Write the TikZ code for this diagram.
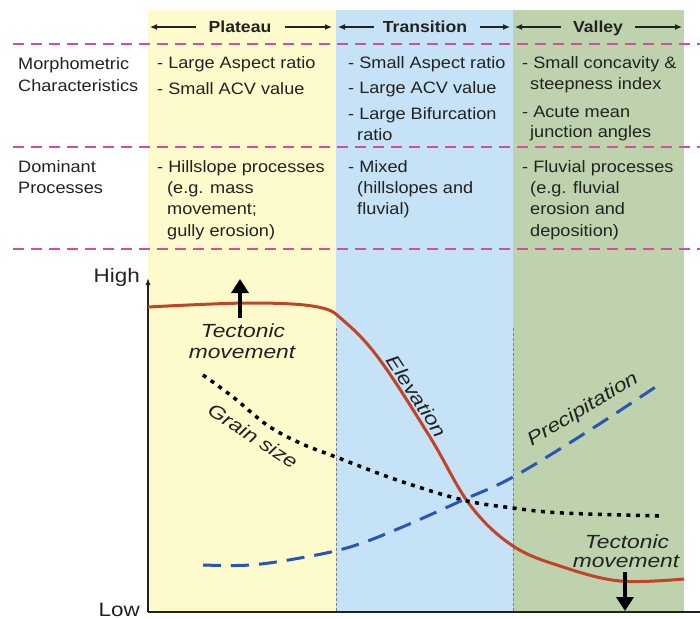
\documentclass[tikz,border=0pt]{standalone}
\usepackage{fontspec}
\setmainfont{Liberation Sans}[FakeStretch=1.1]
\newfontfamily\lblfont{Liberation Sans}[FakeStretch=1.2]
\newfontfamily\axfont{Liberation Sans}[FakeStretch=1.15]
\usetikzlibrary{arrows.meta}
\definecolor{plat}{HTML}{FDFBCB}
\definecolor{trans}{HTML}{C6E2F7}
\definecolor{vall}{HTML}{BED3AD}
\definecolor{pinkd}{HTML}{D94C9C}
\definecolor{elev}{HTML}{C1432A}
\definecolor{precip}{HTML}{2B55B5}
\definecolor{txt}{HTML}{222222}
\tikzset{
  body/.style={anchor=base west, inner sep=0pt, text=txt, font=\fontsize{16.5}{20}\selectfont},
  head/.style={anchor=base, inner sep=0pt, text=txt, font=\fontsize{16}{20}\selectfont\bfseries},
  axlbl/.style={anchor=base east, inner sep=0pt, text=txt, font=\axfont\fontsize{19.5}{22}\selectfont},
  curvelbl/.style={anchor=base, inner sep=0pt, text=txt, font=\lblfont\fontsize{19}{22}\selectfont\itshape},
  hdarrow/.style={-{Latex[length=7pt,width=6pt]}, line width=1.1pt, txt},
  rowline/.style={pinkd, line width=1.4pt, dash pattern=on 11pt off 7pt},
  zoneline/.style={gray, line width=0.6pt, dash pattern=on 3pt off 2pt},
  tect/.style={-{Triangle[length=14pt,width=17pt]}, line width=4.5pt, black},
}
\begin{document}
\begin{tikzpicture}[x=1pt,y=-1pt]
\useasboundingbox (0,0) rectangle (700,618);
% zones
\fill[plat] (148,10) rectangle (336,612);
\fill[trans] (336,10) rectangle (513,612);
\fill[vall] (513,10) rectangle (684,612);
% row separators
\foreach \yy in {44,147,249} \draw[rowline] (13,\yy) -- (700,\yy);
% zone boundaries in graph
\draw[zoneline] (336,328) -- (336,612);
\draw[zoneline] (513,328) -- (513,612);
% headers
\node[head] (hp) at (240,33) {Plateau};
\node[head] (ht) at (425,33) {Transition};
\node[head] (hv) at (598,33) {Valley};
\coordinate (hpL) at (150,27); \coordinate (hpR) at (332,27);
\coordinate (htL) at (338,27); \coordinate (htR) at (510,27);
\coordinate (hvL) at (515,27); \coordinate (hvR) at (682,27);
\draw[hdarrow] ([xshift=-13pt]hp.west |- hpL) -- (hpL);
\draw[hdarrow] ([xshift=13pt]hp.east |- hpR) -- (hpR);
\draw[hdarrow] ([xshift=-9pt]ht.west |- htL) -- (htL);
\draw[hdarrow] ([xshift=13pt]ht.east |- htR) -- (htR);
\draw[hdarrow] ([xshift=-12pt]hv.west |- hvL) -- (hvL);
\draw[hdarrow] ([xshift=12pt]hv.east |- hvR) -- (hvR);
% row labels
\node[body] (m1) at (18,69) {Morphometric};
\node[body] (m2) at (18,91) {Characteristics};
\node[body] (d1) at (18,172) {Dominant};
\node[body] (d2) at (18,193) {Processes};
% plateau
\node[body] (p1) at (157,68) {- Large Aspect ratio};
\node[body] (p2) at (157,94) {- Small ACV value};
\node[body] (p3) at (157,172) {- Hillslope processes};
\node[body] (p4) at (167,193) {(e.g. mass};
\node[body] (p5) at (167,214) {movement;};
\node[body] (p6) at (167,236) {gully erosion)};
% transition
\node[body] (t1) at (348,68) {- Small Aspect ratio};
\node[body] (t2) at (348,93) {- Large ACV value};
\node[body] (t3) at (348,119) {- Large Bifurcation};
\node[body] (t4) at (357,140) {ratio};
\node[body] (t5) at (348,172) {- Mixed};
\node[body] (t6) at (357,193) {(hillslopes and};
\node[body] (t7) at (357,214) {fluvial)};
% valley
\node[body] (v1) at (522,68) {- Small concavity \&};
\node[body] (v2) at (530,89) {steepness index};
\node[body] (v3) at (522,117) {- Acute mean};
\node[body] (v4) at (530,137) {junction angles};
\node[body] (v5) at (522,172) {- Fluvial processes};
\node[body] (v6) at (530,193) {(e.g. fluvial};
\node[body] (v7) at (530,214) {erosion and};
\node[body] (v8) at (530,236) {deposition)};
% axes
\coordinate (origin) at (148,612);
\coordinate (ytop) at (148,278);
\coordinate (xend) at (700,612);
\draw[line width=1.1pt, txt, -{Latex[length=7pt,width=5pt]}] (origin) -- (ytop);
\draw[line width=1.1pt, txt] (origin) -- (xend);
\node[axlbl] (high) at (140,282) {High};
\node[axlbl] (low) at (140,616.5) {Low};
% curves
\draw[elev, line width=3pt] plot[smooth, tension=0.6] coordinates {(148,307) (250,303) (318,307) (345,322) (380,360) (430,437) (470,505) (513,546) (563,567) (620,581) (684,579)};
\draw[black, line width=3.5pt, dash pattern=on 4pt off 5.5pt] plot[smooth, tension=0.6] coordinates {(203,375) (233,397) (267,425) (300,443) (336,457) (397,480) (463,500) (513,508) (563,513) (663,516)};
\draw[precip, line width=3pt, dash pattern=on 18pt off 10pt] plot[smooth, tension=0.6] coordinates {(203,565) (250,565) (300,558) (350,547) (400,528) (463,500) (513,477) (590,430) (663,382)};
% labels on curves
\node[curvelbl] (tu1) at (243,337) {Tectonic};
\node[curvelbl] (tu2) at (242,358) {movement};
\node[curvelbl] (td1) at (627,548) {Tectonic};
\node[curvelbl] (td2) at (626,567) {movement};
\node[curvelbl, anchor=center, rotate=-33] (gs) at (253,436) {Grain size};
\node[curvelbl, anchor=center, rotate=-57] (el) at (417,396) {Elevation};
\node[curvelbl, anchor=center, rotate=31] (pr) at (583,410) {Precipitation};
% tectonic arrows
\coordinate (upTip) at (240,279);
\coordinate (upTail) at (240,318);
\coordinate (dnTip) at (625,611);
\coordinate (dnTail) at (625,572);
\draw[tect] (upTail) -- (upTip);
\draw[tect] (dnTail) -- (dnTip);
\end{tikzpicture}
\end{document}
